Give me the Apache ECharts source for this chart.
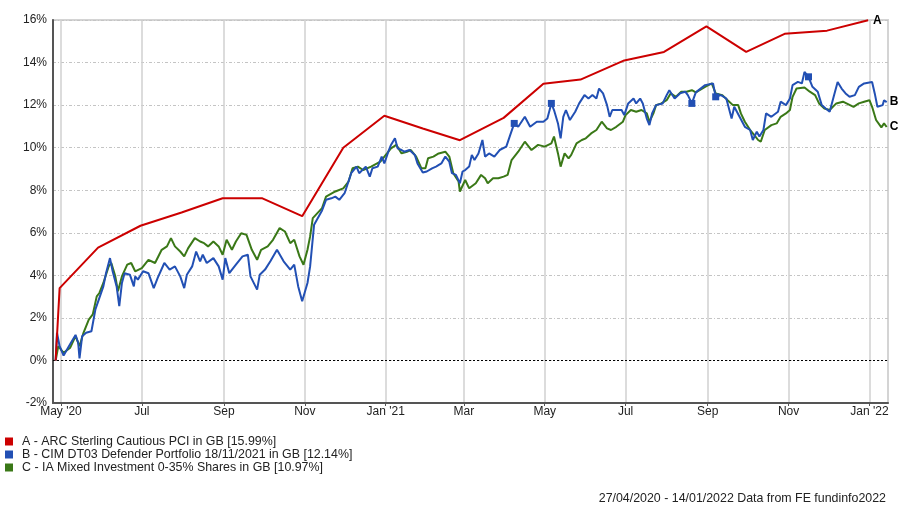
<!DOCTYPE html>
<html>
<head>
<meta charset="utf-8">
<script src="https://cdn.jsdelivr.net/npm/echarts@6/dist/echarts.min.js"></script>
<style>
html,body{margin:0;padding:0;background:#fff;}
#chart{width:904px;height:518px;}
</style>
</head>
<body>
<div id="chart"></div>
<script>
// Day offsets are counted from 01/05/2020
const seriesNames = [
  'A - ARC Sterling Cautious PCI in GB [15.99%]',
  'B - CIM DT03 Defender Portfolio 18/11/2021 in GB [12.14%]',
  'C - IA Mixed Investment 0-35% Shares in GB [10.97%]'
];
const endTags = ['A', 'B', 'C'];
const tickDates = ['2020-05-01','2020-07-01','2020-09-01','2020-11-01','2021-01-01','2021-03-01','2021-05-01','2021-07-01','2021-09-01','2021-11-01','2022-01-01'];
const tickLabels = ["May '20","Jul","Sep","Nov","Jan '21","Mar","May","Jul","Sep","Nov","Jan '22"];
const yTicks = [-2,0,2,4,6,8,10,12,14,16];

const redDays = [-4,-1,28,60,91,122,152,182,213,244,273,301,334,364,392,425,455,487,517,546,578,609];
const redValues = [0,3.4,5.3,6.33,6.95,7.62,7.62,6.78,10.0,11.5,10.9,10.35,11.4,13.0,13.2,14.1,14.5,15.7,14.5,15.35,15.5,15.99];

const blueDays = [-4,-3,-1,2,6,11,13,14,16,19,23,26,29,32,34,37,39,42,44,46,48,52,55,56,58,62,66,70,73,78,82,86,90,93,95,99,102,105,107,110,115,119,122,124,127,132,137,141,143,148,150,154,158,163,168,173,176,179,182,186,188,191,197,200,204,207,210,214,219,223,225,230,233,235,239,242,244,247,249,252,254,257,259,263,267,269,273,276,280,283,287,290,293,295,298,301,303,305,308,310,312,315,318,320,323,327,331,336,339,342,345,350,354,359,364,367,370,372,375,377,379,381,384,388,391,395,398,401,404,406,409,412,414,416,420,423,425,428,432,434,437,439,442,444,446,449,454,457,459,463,467,471,473,476,479,486,492,494,498,502,506,508,512,516,520,522,525,527,530,532,536,541,543,547,550,552,556,559,561,564,567,571,574,577,580,583,586,589,592,595,599,602,606,612,614,616,620,621,623];
const blueValues = [0,1.3,0.67,0.23,0.67,1.2,0.83,0.1,1.14,1.3,1.37,2.4,2.94,3.48,4.1,4.81,4.19,3.48,2.55,3.64,4.1,4.03,3.48,3.95,3.8,4.19,4.1,3.4,3.88,4.58,4.27,4.42,3.95,3.4,4.03,4.42,5.12,4.66,4.97,4.58,4.81,4.42,3.8,4.81,4.1,4.5,4.89,4.97,3.95,3.33,4.03,4.27,4.66,5.2,4.66,4.27,4.5,3.48,2.78,3.64,4.42,6.38,7.05,7.55,7.62,7.7,7.55,7.86,8.8,9.11,8.8,9.11,8.64,9.03,9.11,9.58,9.26,9.81,10.13,10.44,9.97,9.89,9.81,9.89,9.66,9.26,8.83,8.88,9.03,9.11,9.26,9.58,9.34,8.8,8.72,8.33,8.88,8.95,9.11,9.66,9.42,9.73,10.36,9.58,9.73,9.58,9.89,10.05,10.6,11.14,10.98,11.45,10.98,11.22,11.22,11.37,12.08,11.77,11.14,10.44,11.45,11.77,11.3,11.69,12.08,12.47,12.31,12.47,12.31,12.78,12.55,12.0,11.45,11.77,11.77,11.77,11.53,12.08,12.31,12.08,12.31,12.08,11.37,11.06,11.61,12.0,12.08,12.47,12.7,12.31,12.55,12.63,12.47,12.08,12.6,12.94,13.02,12.39,12.47,12.31,11.37,11.92,11.45,10.98,10.83,10.36,10.75,10.52,10.83,11.61,11.45,11.69,12.16,12.0,12.31,12.94,13.09,13.02,13.56,13.33,12.86,12.63,12.0,11.84,11.69,12.39,13.09,12.78,12.55,12.39,12.47,12.86,13.02,13.09,12.55,11.92,12.0,12.23,12.14];

const greenDays = [-4,-2,2,7,11,14,17,21,24,27,29,32,36,38,41,43,46,50,53,56,61,66,71,76,80,83,86,90,93,96,101,105,108,111,115,119,122,125,129,132,136,140,144,148,151,156,160,165,169,173,176,180,183,186,188,190,197,200,207,213,217,220,224,228,234,241,246,249,253,257,261,264,268,272,275,277,281,285,290,293,296,300,301,305,308,313,317,320,322,326,330,334,337,340,345,350,355,360,365,370,372,375,377,380,383,385,389,393,396,400,404,408,412,415,419,424,426,430,434,438,442,444,447,449,453,457,460,464,468,472,476,479,486,491,494,499,503,507,511,513,516,520,523,526,528,531,536,540,543,547,550,552,555,561,565,569,572,576,580,585,590,598,602,606,610,612,615,619,621,623];
const greenValues = [0,0.67,0.36,0.6,1.14,0.67,1.3,1.92,2.16,3.01,3.17,3.64,4.42,4.58,3.95,3.25,3.95,4.5,4.58,4.19,4.34,4.73,4.58,5.2,5.36,5.75,5.36,5.12,4.89,5.28,5.75,5.59,5.51,5.36,5.59,5.36,4.97,5.67,5.2,5.59,5.98,5.9,5.2,4.73,5.2,5.36,5.67,6.22,6.06,5.51,5.67,4.89,4.5,5.2,5.83,6.69,7.16,7.7,7.94,8.09,8.41,9.03,9.11,8.95,9.11,9.34,9.73,9.97,10.13,9.73,9.81,9.89,9.58,9.03,9.03,9.5,9.58,9.73,9.81,9.58,8.8,8.41,7.94,8.48,8.09,8.33,8.72,8.56,8.33,8.56,8.56,8.64,8.72,9.42,9.81,10.28,9.89,10.13,10.05,10.2,10.52,9.73,9.11,9.73,9.5,9.66,10.2,10.36,10.44,10.67,10.83,11.22,10.91,10.83,10.98,11.22,11.53,11.77,11.69,11.77,11.61,11.22,11.61,12.0,12.08,12.23,12.55,12.39,12.63,12.63,12.7,12.6,12.86,13.02,12.55,12.47,12.23,12.0,12.0,11.61,11.22,10.83,10.6,10.36,10.28,10.83,11.06,11.14,11.45,11.61,11.77,12.39,12.78,12.83,12.63,12.47,12.08,11.84,11.77,12.08,12.16,11.92,12.08,12.16,12.23,11.92,11.3,10.95,11.14,10.97];

const markerDays = [342,370,476,494,564];

const colors = ['#cc0000', '#2250b4', '#3a7817'];
const FONT = '"Liberation Sans", Arial, sans-serif';

function toTime(d) { return new Date(2020, 4, 1 + d).getTime(); }
function parseDay(s) { const p = s.split('-').map(Number); return new Date(p[0], p[1] - 1, p[2]).getTime(); }
const tickTimes = tickDates.map(parseDay);
const xMin = toTime(-6), xMax = toTime(624);

const redData = redDays.map((d, i) => [toTime(d), redValues[i]]);
const blueData = blueDays.map((d, i) => [toTime(d), blueValues[i]]);
const greenData = greenDays.map((d, i) => [toTime(d), greenValues[i]]);
const markerData = markerDays.map(d => [toTime(d), blueValues[blueDays.indexOf(d)]]);

function lineSeries(idx, data, z, dist) {
  return {
    name: seriesNames[idx], type: 'line', data: data, showSymbol: false, symbol: 'none',
    lineStyle: { color: colors[idx], width: 2 }, itemStyle: { color: colors[idx] },
    z: z, animation: false,
    endLabel: { show: true, formatter: endTags[idx], color: '#000', fontFamily: FONT, fontSize: 12, fontWeight: 'bold', distance: dist }
  };
}

const chart = echarts.init(document.getElementById('chart'), null, { renderer: 'canvas' });
chart.setOption({
  animation: false,
  backgroundColor: '#fff',
  textStyle: { fontFamily: FONT },
  grid: { left: 53, right: 16, top: 20, bottom: 115, show: true, borderColor: '#d4d4d4', borderWidth: 2, backgroundColor: 'transparent' },
  title: {
    text: '27/04/2020 - 14/01/2022 Data from FE fundinfo2022',
    right: 13, top: 488, padding: 5,
    textStyle: { fontFamily: FONT, fontSize: 12.4, fontWeight: 'normal', color: '#222' }
  },
  legend: {
    orient: 'vertical', left: 5, top: 435, padding: 0, itemWidth: 8, itemHeight: 8, itemGap: 0,
    icon: 'rect', data: seriesNames, selectedMode: false,
    textStyle: { fontFamily: FONT, fontSize: 12.4, color: '#222', lineHeight: 13, padding: [0, 0, 0, 4] }
  },
  xAxis: {
    type: 'value', min: xMin, max: xMax,
    axisLine: { show: true, onZero: false, lineStyle: { color: '#555', width: 2 } },
    axisTick: { show: true, length: 3, lineStyle: { color: '#555' }, customValues: tickTimes },
    axisLabel: {
      customValues: tickTimes, margin: 3, color: '#222', fontSize: 12, fontFamily: FONT,
      formatter: function (v) { const i = tickTimes.indexOf(v); return i >= 0 ? tickLabels[i] : ''; }
    },
    splitLine: { show: true, lineStyle: { color: '#d0d0d0', width: 1.5, type: 'solid' } }
  },
  yAxis: {
    type: 'value', min: yTicks[0], max: yTicks[yTicks.length - 1], interval: 2,
    axisLine: { show: true, lineStyle: { color: '#555', width: 2 } },
    axisTick: { show: false },
    axisLabel: { margin: 6, color: '#222', fontSize: 12, fontFamily: FONT, formatter: '{value}%' },
    splitLine: { show: true, lineStyle: { color: '#c4c4c4', width: 1, type: [3, 2, 1, 2] } }
  },
  series: [
    Object.assign(lineSeries(2, greenData, 2, 3), {
      markLine: {
        silent: true, symbol: 'none', label: { show: false },
        lineStyle: { color: '#000', width: 1, type: [2, 2] },
        data: [{ yAxis: 0 }], animation: false, z: 1
      }
    }),
    lineSeries(1, blueData, 3, 3),
    lineSeries(0, redData, 4, 5),
    {
      name: 'markers', type: 'scatter', data: markerData, symbol: 'rect', symbolSize: 7,
      itemStyle: { color: colors[1], opacity: 1 }, z: 5, silent: true
    }
  ]
});
</script>
</body>
</html>
